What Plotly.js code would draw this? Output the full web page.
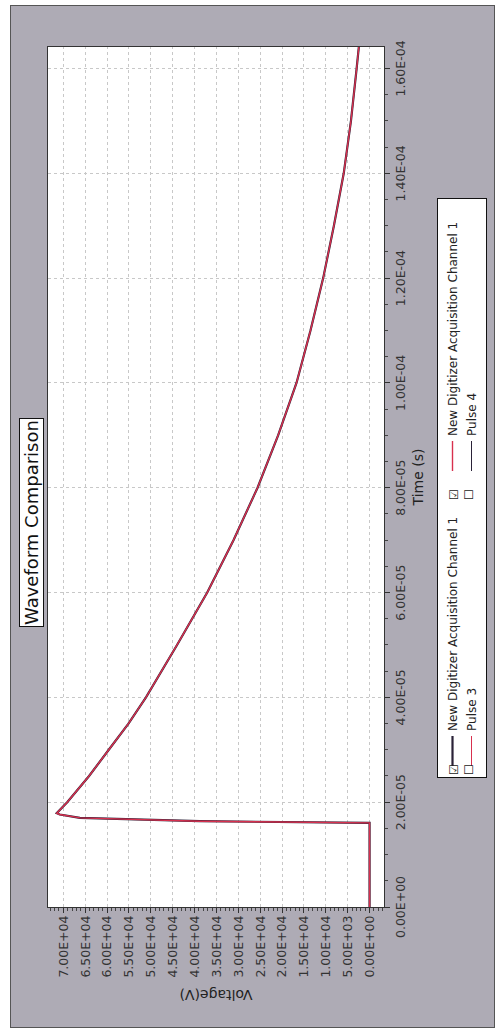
<!DOCTYPE html>
<html>
<head>
<meta charset="utf-8">
<script src="https://cdn.plot.ly/plotly-3.0.1.min.js"></script>
<style>
  html, body { margin: 0; padding: 0; background: #ffffff; overflow: hidden; }
  #wrap {
    position: absolute; left: 0; top: 0; width: 1035px; height: 498px;
    transform-origin: 0 0; transform: translateY(1035px) rotate(-90deg);
  }
  #frame {
    position: absolute; left: 7px; top: 10px; width: 1021px; height: 483px;
    background: #aeabb5; border: 1px solid #555;
  }
  #chart { position: absolute; left: 0; top: 0; width: 1035px; height: 498px; }
</style>
</head>
<body>
<div id="wrap"><div id="frame"></div><div id="chart"></div></div>
<script>
// ---- data ----
const time = [0, 1.605e-5, 1.637e-5, 1.681e-5, 1.70e-5, 1.765e-5, 1.79e-5, 2.0e-5, 2.5e-5, 3.0e-5,
  3.5e-5, 4.0e-5, 5.0e-5, 6.0e-5, 7.0e-5, 8.0e-5, 9.0e-5, 1.0e-4, 1.1e-4, 1.2e-4,
  1.3e-4, 1.4e-4, 1.5e-4, 1.6e-4, 1.641e-4];
const voltage = [0, 0, 38800, 61250, 66200, 70800, 71500, 69100, 64100, 59600,
  55100, 51100, 44000, 37100, 31100, 25600, 20900, 16700, 13500, 10600,
  8150, 5900, 4250, 2950, 2450];

const seriesNames = ["New Digitizer Acquisition Channel 1", "New Digitizer Acquisition Channel 1", "Pulse 3", "Pulse 4"];

const timeTicks = [0, 2e-5, 4e-5, 6e-5, 8e-5, 1e-4, 1.2e-4, 1.4e-4, 1.6e-4];
const timeTickLabels = ["0.00E+00", "2.00E-05", "4.00E-05", "6.00E-05", "8.00E-05", "1.00E-04", "1.20E-04", "1.40E-04", "1.60E-04"];
const voltTicks = [0, 5000, 10000, 15000, 20000, 25000, 30000, 35000, 40000, 45000, 50000, 55000, 60000, 65000, 70000];
const voltTickLabels = ["0.00E+00", "5.00E+03", "1.00E+04", "1.50E+04", "2.00E+04", "2.50E+04", "3.00E+04", "3.50E+04",
  "4.00E+04", "4.50E+04", "5.00E+04", "5.50E+04", "6.00E+04", "6.50E+04", "7.00E+04"];

const dark = "#2a2238";
const red = "#d8304e";

const traces = [
  { x: time, y: voltage, type: "scatter", mode: "lines", name: seriesNames[0], legendwidth: 244,
    line: { color: dark, width: 2.2 } },
  { x: time, y: voltage, type: "scatter", mode: "lines", name: seriesNames[1], legendwidth: 232,
    line: { color: red, width: 1.4 } },
  // unchecked series: nothing drawn in the plot, legend entry only
  { x: [time[0]], y: [null], type: "scatter", mode: "lines", name: seriesNames[2], legendwidth: 244,
    line: { color: red, width: 1 } },
  { x: [time[0]], y: [null], type: "scatter", mode: "lines", name: seriesNames[3], legendwidth: 232,
    line: { color: dark, width: 1 } }
];

const W = 1035, H = 498;
const M = { l: 128, r: 47, t: 48, b: 113 };
const pw = W - M.l - M.r, ph = H - M.t - M.b;
function px(X) { return (X - M.l) / pw; }
function py(Y) { return (H - M.b - Y) / ph; }

const font = "DejaVu Sans, Verdana, sans-serif";

const layout = {
  width: W, height: H,
  margin: M,
  paper_bgcolor: "rgba(0,0,0,0)",
  plot_bgcolor: "#ffffff",
  font: { family: font, color: "#222", size: 12 },
  showlegend: true,
  legend: {
    orientation: "h", x: px(257), xanchor: "left", y: py(437), yanchor: "top",
    bgcolor: "#ffffff", bordercolor: "#111", borderwidth: 1,
    font: { family: font, size: 12, color: "#222" },
    entrywidth: 244, entrywidthmode: "pixels", indentation: 6,
    traceorder: "normal"
  },
  xaxis: {
    range: [0, 1.641e-4],
    tickmode: "array", tickvals: timeTicks, ticktext: timeTickLabels,
    ticks: "outside", ticklen: 5, tickcolor: "#333",
    tickfont: { family: font, size: 12.5, color: "#333" },
    showgrid: true, gridcolor: "#c8c8c8", griddash: "dot", gridwidth: 1,
    showline: true, linecolor: "#333", linewidth: 1, mirror: true,
    zeroline: false,
    minor: { tickmode: "linear", tick0: 0, dtick: 5e-6, ticks: "outside", ticklen: 3, tickcolor: "#444", showgrid: false },
    title: { text: "Time (s)", font: { family: font, size: 14, color: "#222" }, standoff: 6 }
  },
  yaxis: {
    range: [-3300, 73490],
    tickmode: "array", tickvals: voltTicks, ticktext: voltTickLabels,
    ticks: "outside", ticklen: 5, tickcolor: "#333",
    tickfont: { family: font, size: 12.5, color: "#333" },
    showgrid: true, gridcolor: "#c8c8c8", griddash: "dot", gridwidth: 1,
    showline: true, linecolor: "#333", linewidth: 1, mirror: true,
    zeroline: false,
    minor: { tickmode: "linear", tick0: 0, dtick: 1000, ticks: "outside", ticklen: 3, tickcolor: "#444", showgrid: false },
    title: { text: "Voltage(V)", font: { family: font, size: 14, color: "#222" }, standoff: 8 }
  },
  annotations: [
    { text: "Waveform Comparison", xref: "paper", yref: "paper", x: px(512), y: py(31),
      xanchor: "center", yanchor: "middle", showarrow: false,
      font: { family: font, size: 18, color: "#111" },
      bgcolor: "#ffffff", bordercolor: "#111", borderwidth: 1, borderpad: 1 },
    { text: "☑", xref: "paper", yref: "paper", x: px(265), y: py(455), xanchor: "center", yanchor: "middle",
      showarrow: false, font: { family: font, size: 12, color: "#222" } },
    { text: "☐", xref: "paper", yref: "paper", x: px(265), y: py(470), xanchor: "center", yanchor: "middle",
      showarrow: false, font: { family: font, size: 12, color: "#222" } },
    { text: "☑", xref: "paper", yref: "paper", x: px(540), y: py(455), xanchor: "center", yanchor: "middle",
      showarrow: false, font: { family: font, size: 12, color: "#222" } },
    { text: "☐", xref: "paper", yref: "paper", x: px(540), y: py(470), xanchor: "center", yanchor: "middle",
      showarrow: false, font: { family: font, size: 12, color: "#222" } }
  ]
};

Plotly.newPlot("chart", traces, layout, { staticPlot: true, displayModeBar: false });
</script>
</body>
</html>
